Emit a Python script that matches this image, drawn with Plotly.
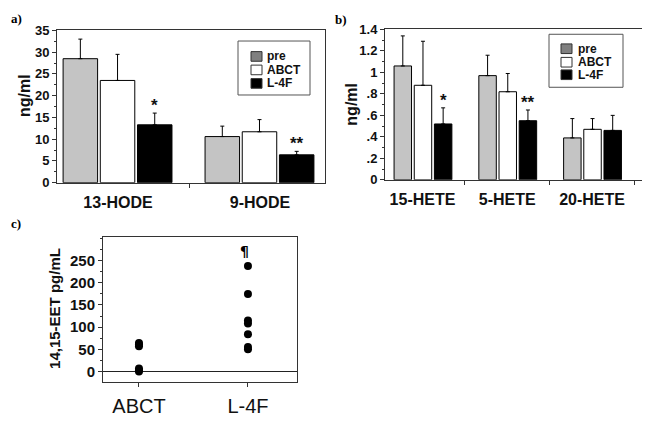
import plotly.graph_objects as go

# ---------------- data ----------------
groups = ["pre", "ABCT", "L-4F"]
bar_colors = ["#c4c4c4", "#ffffff", "#000000"]
legend_colors = ["#808080", "#ffffff", "#000000"]

a_cats = ["13-HODE", "9-HODE"]
a_vals = {"pre": [28.5, 10.6], "ABCT": [23.5, 11.7], "L-4F": [13.3, 6.4]}
a_errs = {"pre": [4.5, 2.4], "ABCT": [6.0, 2.8], "L-4F": [2.7, 0.8]}
a_stars = ["*", "**"]

b_cats = ["15-HETE", "5-HETE", "20-HETE"]
b_vals = {"pre": [1.06, 0.97, 0.39], "ABCT": [0.88, 0.82, 0.47], "L-4F": [0.52, 0.55, 0.46]}
b_errs = {"pre": [0.28, 0.19, 0.18], "ABCT": [0.41, 0.17, 0.10], "L-4F": [0.15, 0.10, 0.14]}
b_stars = ["*", "**", ""]
b_ticktext = ["0", ".2", ".4", ".6", ".8", "1", "1.2", "1.4"]
b_tickvals = [0, 0.2, 0.4, 0.6, 0.8, 1.0, 1.2, 1.4]

c_abct = [64, 61, 57, 7, 3, 0]
c_l4f = [238, 175, 115, 108, 84, 55, 50]
c_tickvals = [0, 50, 100, 150, 200, 250]
c_mark_y = 272

# page body has an 8px margin: the figure starts at (8, 8) of the window
OFF = 8
W, H = 650 - OFF, 421 - OFF
FONT = "Liberation Sans, Arial, sans-serif"


def px(x):
    return (x - OFF) / W


def py(y):
    return 1 - (y - OFF) / H


fig = go.Figure()

# panel a bars
a_width = 0.243
a_offsets = [-0.387, -0.125, 0.137]
for i, g in enumerate(groups):
    fig.add_trace(go.Bar(
        x=a_cats, y=a_vals[g], name=g, xaxis="x", yaxis="y",
        width=a_width, offset=a_offsets[i],
        marker=dict(color=bar_colors[i], line=dict(color="#000", width=1)),
        error_y=dict(type="data", array=a_errs[g], arrayminus=[0] * len(a_cats),
                     symmetric=False, color="#000", thickness=1, width=2),
        showlegend=False,
    ))

# panel b bars
b_width = 0.206
b_offsets = [-0.335, -0.097, 0.141]
for i, g in enumerate(groups):
    fig.add_trace(go.Bar(
        x=b_cats, y=b_vals[g], name=g, xaxis="x2", yaxis="y2",
        width=b_width, offset=b_offsets[i],
        marker=dict(color=bar_colors[i], line=dict(color="#000", width=1)),
        error_y=dict(type="data", array=b_errs[g], arrayminus=[0] * len(b_cats),
                     symmetric=False, color="#000", thickness=1, width=2),
        showlegend=False,
    ))

# panel c points
fig.add_trace(go.Scatter(
    x=["ABCT"] * len(c_abct) + ["L-4F"] * len(c_l4f),
    y=c_abct + c_l4f, mode="markers", xaxis="x3", yaxis="y3",
    marker=dict(color="#000", size=8), showlegend=False,
))

axis_common = dict(showgrid=False, showline=True, linecolor="#333", linewidth=1,
                   zeroline=False, mirror=True)
ytick_font = dict(family=FONT, size=13, color="#111", weight="bold")

fig.update_layout(
    width=W, height=H, margin=dict(l=0, r=0, t=0, b=0),
    paper_bgcolor="white", plot_bgcolor="white",
    barmode="group",
    xaxis=dict(**axis_common, domain=[px(57), px(325)], anchor="y",
               range=[-0.43, 1.458], type="category",
               ticks="outside", ticklen=4, tickcolor="#333", tickson="boundaries",
               ticklabelstandoff=5,
               tickfont=dict(family=FONT, size=16, color="#111", weight="bold")),
    yaxis=dict(**axis_common, domain=[py(182), py(24)], anchor="x",
               range=[0, 35], dtick=5, ticks="outside", ticklen=4, tickcolor="#333",
               minor=dict(dtick=2.5, ticks="outside", ticklen=2, tickcolor="#333"),
               tickfont=ytick_font),
    xaxis2=dict(**axis_common, domain=[px(385), px(645)], anchor="y2",
                range=[-0.442, 2.625], type="category",
                ticks="outside", ticklen=4, tickcolor="#333", tickson="boundaries",
                ticklabelstandoff=5,
                tickfont=dict(family=FONT, size=16, color="#111", weight="bold")),
    yaxis2=dict(**axis_common, domain=[py(179), py(23)], anchor="x2",
                range=[0, 1.4], tickvals=b_tickvals, ticktext=b_ticktext,
                ticks="outside", ticklen=4, tickcolor="#333",
                minor=dict(dtick=0.1, ticks="outside", ticklen=2, tickcolor="#333"),
                tickfont=ytick_font),
    xaxis3=dict(**axis_common, domain=[px(103), px(297)], anchor="y3",
                range=[-0.33, 1.45], type="category",
                ticks="outside", ticklen=4, tickcolor="#333",
                ticklabelstandoff=2,
                tickfont=dict(family=FONT, size=20, color="#111")),
    yaxis3=dict(showgrid=False, showline=True, linecolor="#333", linewidth=1,
                mirror=True, domain=[py(389), py(238)], anchor="x3",
                range=[-24, 304], tickvals=c_tickvals, ticks="outside", ticklen=4,
                tickcolor="#333",
                zeroline=True, zerolinecolor="#222", zerolinewidth=1,
                minor=dict(dtick=25, ticks="outside", ticklen=2, tickcolor="#333"),
                tickfont=dict(family=FONT, size=15, color="#111", weight="bold")),
)

ann = []
shapes = []

# panel labels
for txt, x, y in [("a)", 9, 12), ("b)", 333, 13), ("c)", 9, 224)]:
    ann.append(dict(text=txt, x=px(x), y=py(y), xref="paper", yref="paper",
                    xanchor="left", yanchor="middle", showarrow=False,
                    font=dict(family="Liberation Serif, Times New Roman, serif",
                              size=13, color="#000", weight="bold")))

# y titles
for txt, x, y, size in [("ng/ml", 25, 92, 16), ("ng/ml", 352, 100, 16),
                        ("14,15-EET pg/mL", 55, 312, 15)]:
    ann.append(dict(text=txt, x=px(x), y=py(y), xref="paper", yref="paper",
                    xanchor="center", yanchor="middle", textangle=-90, showarrow=False,
                    font=dict(family=FONT, size=size, color="#111", weight="bold")))

# significance stars
for i, s in enumerate(a_stars):
    if s:
        ann.append(dict(text=s, x=i + a_offsets[2] + a_width / 2,
                        y=a_vals["L-4F"][i] + a_errs["L-4F"][i],
                        xref="x", yref="y", xanchor="center", yanchor="bottom",
                        showarrow=False, yshift=-4,
                        font=dict(family=FONT, size=17, color="#111", weight="bold")))
for i, s in enumerate(b_stars):
    if s:
        ann.append(dict(text=s, x=i + b_offsets[2] + b_width / 2,
                        y=b_vals["L-4F"][i] + b_errs["L-4F"][i],
                        xref="x2", yref="y2", xanchor="center", yanchor="bottom",
                        showarrow=False, yshift=-4,
                        font=dict(family=FONT, size=17, color="#111", weight="bold")))

# pilcrow mark in panel c
ann.append(dict(text="¶", x=1, y=c_mark_y, xref="x3", yref="y3",
                xanchor="center", yanchor="middle", showarrow=False, xshift=-3,
                font=dict(family="DejaVu Sans", size=14, color="#000", weight="bold")))


# hand-drawn legends
def legend(box, items):
    x0, y0, x1, y1 = box
    shapes.append(dict(type="rect", xref="paper", yref="paper",
                       x0=px(x0), x1=px(x1), y0=py(y1), y1=py(y0),
                       line=dict(color="#555", width=1), fillcolor="white"))
    for (sx, sy, tx, label, color) in items:
        shapes.append(dict(type="rect", xref="paper", yref="paper",
                           x0=px(sx), x1=px(sx + 11), y0=py(sy + 5), y1=py(sy - 5),
                           line=dict(color="#333", width=1), fillcolor=color))
        ann.append(dict(text=label, x=px(tx), y=py(sy), xref="paper", yref="paper",
                        xanchor="left", yanchor="middle", showarrow=False, borderpad=0,
                        font=dict(family=FONT, size=12, color="#111", weight="bold")))


legend((238, 35, 310, 91), [(251, 51, 266, groups[0], legend_colors[0]),
                            (251, 65, 266, groups[1], legend_colors[1]),
                            (251, 79, 266, groups[2], legend_colors[2])])
legend((549, 28, 623, 83), [(561, 43, 577, groups[0], legend_colors[0]),
                            (561, 57, 577, groups[1], legend_colors[1]),
                            (561, 70, 577, groups[2], legend_colors[2])])

fig.update_layout(annotations=ann, shapes=shapes)
fig.write_html("out.html")
